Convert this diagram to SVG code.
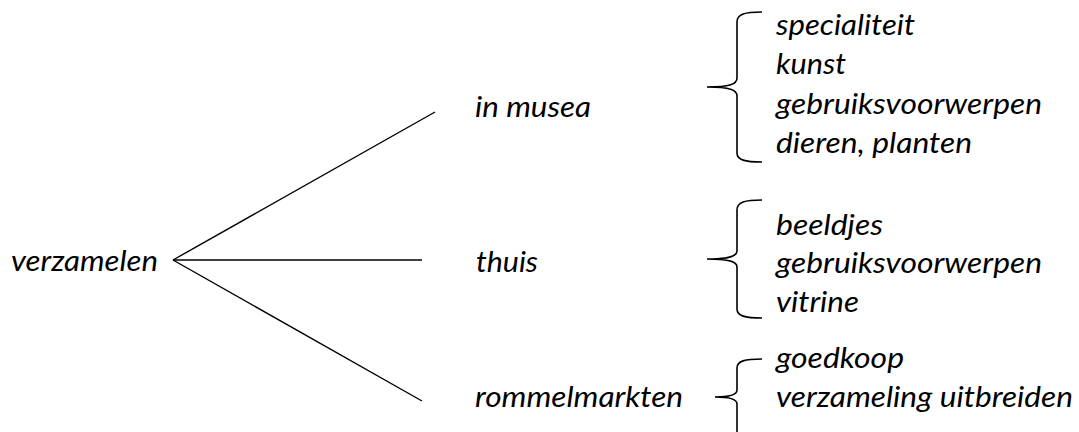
<svg xmlns="http://www.w3.org/2000/svg" width="1079" height="432" viewBox="0 0 1079 432">
<style>
text{font-family:Lato,"Open Sans","Liberation Sans",sans-serif;font-style:italic;font-size:28px;fill:#000}
.c{fill:none;stroke:#000;stroke-width:1.4}
.b{fill:none;stroke:#000;stroke-width:1.6}
</style>
<rect width="1079" height="432" fill="#fff"/>
<g id="connectors">
<line class="c" x1="173" y1="260" x2="435" y2="112"/>
<line class="c" x1="173" y1="260" x2="422" y2="260"/>
<line class="c" x1="173" y1="260" x2="422" y2="401"/>
</g>
<g id="root"><text x="11" y="271" textLength="147" lengthAdjust="spacingAndGlyphs">verzamelen</text></g>
<g id="musea">
<text x="475" y="117" textLength="116" lengthAdjust="spacingAndGlyphs">in musea</text>
<path class="b" d="M762,12 C745,12 737,14 737,22 L737,78 C737,84 730,87 707,87 C730,87 737,90 737,96 L737,153 C737,160 745,162 762,162"/>
<text x="776" y="35" textLength="139" lengthAdjust="spacingAndGlyphs">specialiteit</text>
<text x="776" y="74" textLength="70" lengthAdjust="spacingAndGlyphs">kunst</text>
<text x="776" y="114" textLength="266" lengthAdjust="spacingAndGlyphs">gebruiksvoorwerpen</text>
<text x="776" y="153" textLength="196" lengthAdjust="spacingAndGlyphs">dieren, planten</text>
</g>
<g id="thuis">
<text x="476" y="272" textLength="62" lengthAdjust="spacingAndGlyphs">thuis</text>
<path class="b" d="M762,200 C745,200 737,202 737,210 L737,251 C737,256 730,259 707,259 C730,259 737,262 737,267 L737,309 C737,316 745,318 762,318"/>
<text x="776" y="235" textLength="107" lengthAdjust="spacingAndGlyphs">beeldjes</text>
<text x="776" y="273" textLength="266" lengthAdjust="spacingAndGlyphs">gebruiksvoorwerpen</text>
<text x="776" y="312" textLength="83" lengthAdjust="spacingAndGlyphs">vitrine</text>
</g>
<g id="rommelmarkten">
<text x="475" y="407" textLength="208" lengthAdjust="spacingAndGlyphs">rommelmarkten</text>
<path class="b" d="M762,359 C745,359 737,361 737,368 L737,390 C737,394 731,397 715,397 C731,397 737,400 737,404 L737,432"/>
<text x="776" y="368" textLength="128" lengthAdjust="spacingAndGlyphs">goedkoop</text>
<text x="776" y="407" textLength="297" lengthAdjust="spacingAndGlyphs">verzameling uitbreiden</text>
</g>
</svg>
